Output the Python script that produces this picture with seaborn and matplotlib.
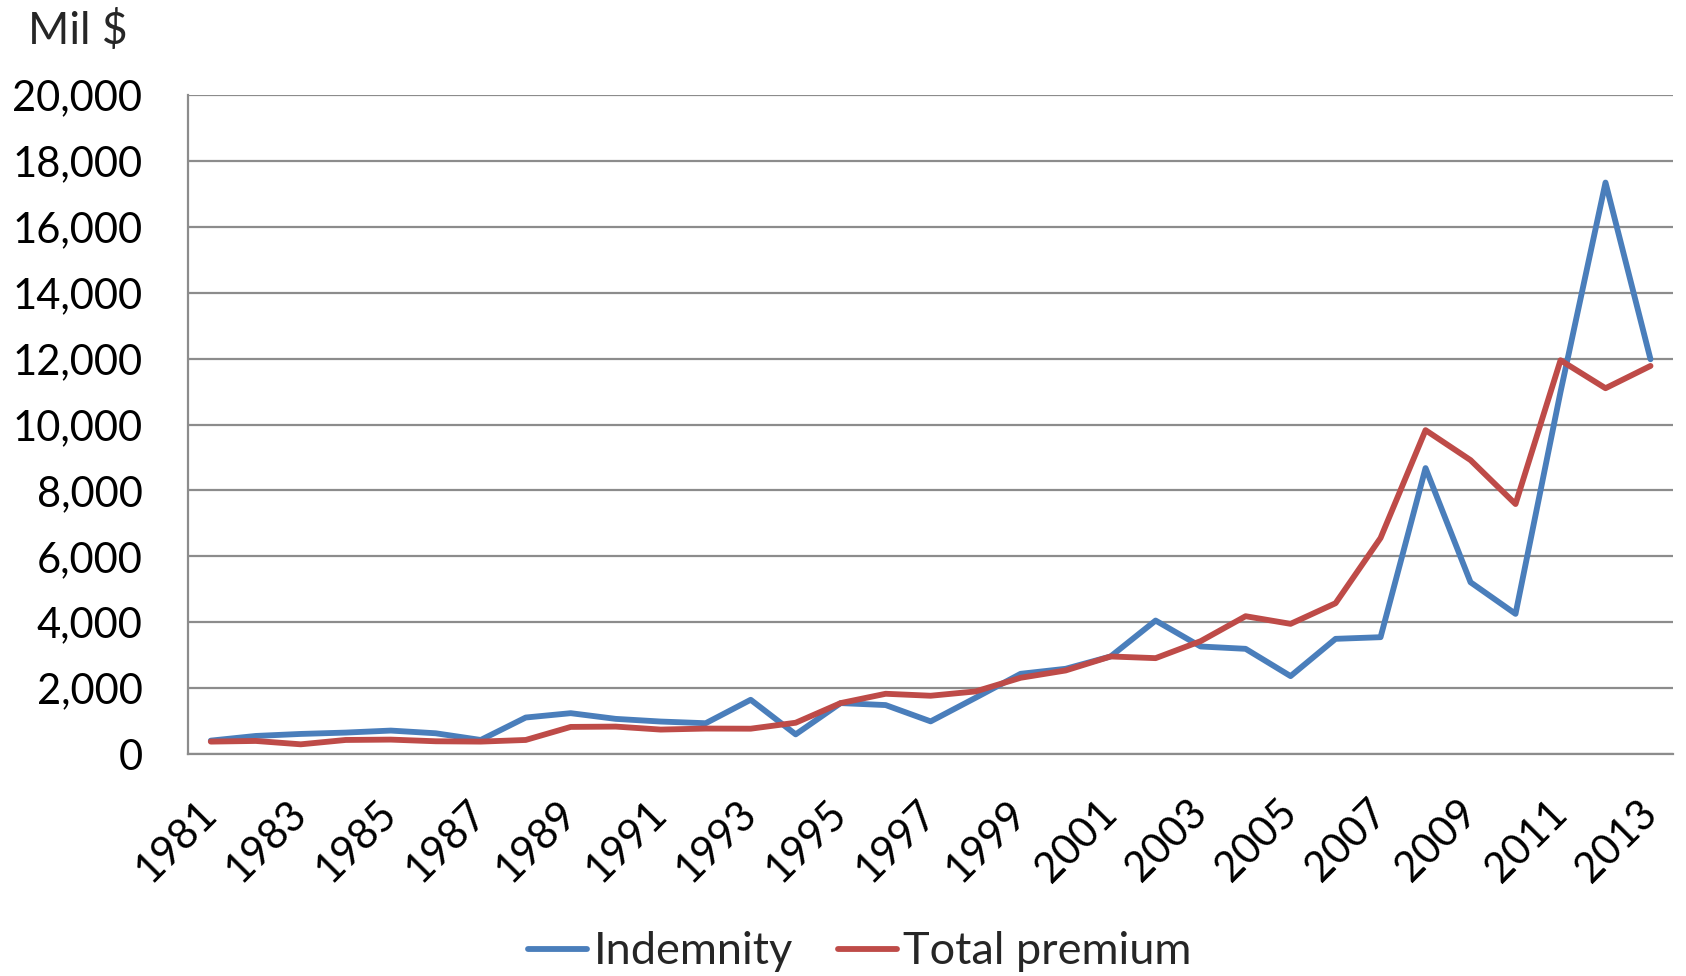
import numpy as np
import pandas as pd
import matplotlib
matplotlib.use("Agg")
import matplotlib.pyplot as plt
import matplotlib.ticker as mticker
import seaborn as sns
from matplotlib.lines import Line2D

years = list(range(1981, 2014))
indemnity = [406, 548, 609, 650, 711, 629, 426, 1107, 1239, 1066, 985, 934,
             1646, 596, 1545, 1485, 990, 1707, 2434, 2586, 2960, 4050, 3263, 3192, 2364,
             3495, 3545, 8677, 5212, 4253, 10990, 17343, 11980]
total_premium = [376, 396, 294, 426, 437, 386, 376, 426, 822, 832, 741, 772,
                 768, 949, 1545, 1828, 1768, 1899, 2313, 2535, 2960, 2909, 3424, 4182, 3950,
                 4576, 6556, 9828, 8919, 7586, 11949, 11101, 11778]
series_names = ["Indemnity", "Total premium"]
series_colors = ["#4A7EBB", "#BE4B48"]
y_ticks = list(range(0, 20001, 2000))
x_tick_years = list(range(1981, 2014, 2))

df = pd.DataFrame({
    "Year": years * 2,
    "Value": indemnity + total_premium,
    "Series": [series_names[0]] * len(years) + [series_names[1]] * len(years),
})

sns.set_style("white")
plt.rcParams["font.family"] = ["Lato", "DejaVu Sans"]

W, H = 1686, 976
fig = plt.figure(figsize=(W / 100, H / 100), dpi=100)
ax = fig.add_axes([188.3 / W, 1 - 754 / H, (1673 - 188.3) / W, (754 - 95) / H])

grid_c = "#8C8C8C"
lw = 4.2
sns.lineplot(data=df, x="Year", y="Value", hue="Series", palette=series_colors,
             hue_order=series_names, linewidth=lw, ax=ax, legend=False)

ax.set_xlim(1980.5, 2013.5)
ax.set_ylim(0, 20000)
ax.set_yticks(y_ticks)
ax.yaxis.set_major_formatter(mticker.FuncFormatter(lambda v, p: f"{int(v):,}"))
ax.grid(axis="y", color=grid_c, linewidth=1.6)
ax.set_axisbelow(True)

ax.set_xticks(x_tick_years)
ax.set_xticklabels([str(y) for y in x_tick_years], rotation=45, ha="right",
                   va="center", rotation_mode="anchor")
ax.set_xticks(np.arange(1980.5, 2014, 1.0), minor=True)
ax.tick_params(axis="x", which="major", length=0, pad=38, labelsize=30, colors="black")
ax.tick_params(axis="x", which="minor", length=11, width=1.6, color=grid_c, direction="out")
ax.tick_params(axis="y", which="major", length=11, width=1.6, color=grid_c, direction="out",
               pad=22, labelsize=30, labelcolor="black")
ax.set_xlabel("")
ax.set_ylabel("")

for s in ["top", "right"]:
    ax.spines[s].set_visible(False)
for s in ["left", "bottom"]:
    ax.spines[s].set_color(grid_c)
    ax.spines[s].set_linewidth(1.6)

fig.text(28 / W, 1 - 31 / H, "Mil $", fontsize=32, ha="left", va="center")

handles = [Line2D([], [], color=c, linewidth=lw) for c in series_colors]
fig.legend(handles, series_names, loc="center", bbox_to_anchor=(0.51, 1 - 952 / H),
           ncol=2, frameon=False, fontsize=32.5, handlelength=1.3, handletextpad=0.15,
           columnspacing=1.0)

fig.savefig("out.png", dpi=100)
